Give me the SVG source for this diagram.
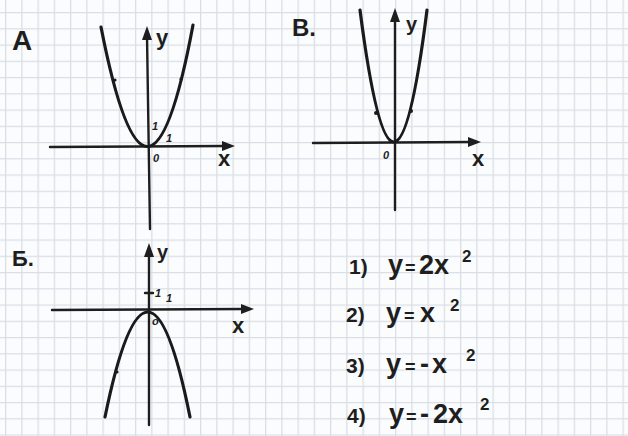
<svg xmlns="http://www.w3.org/2000/svg" width="628" height="436" viewBox="0 0 628 436">
<defs>
<pattern id="grid" x="5" y="12" width="16.25" height="16.25" patternUnits="userSpaceOnUse">
<path d="M0.6,0 V16.25 M0,0.6 H16.25" fill="none" stroke="#d9dee5" stroke-width="1.3"/>
</pattern>
</defs>
<style>
.axis{fill:none;stroke:#1e1e1e;stroke-width:2.4;stroke-linecap:round}
.head{fill:#1e1e1e}
.curve{fill:none;stroke:#1a1a1a;stroke-width:3.2;stroke-linecap:round}
.lbl{font-family:"Liberation Sans",Arial,sans-serif;font-weight:bold;fill:#1e1e1e}
.big{font-size:28px}
.ax{font-size:22px}
.sm{font-size:11px;font-style:italic}
.eq{font-family:"Liberation Sans",Arial,sans-serif;font-weight:bold;fill:#1e1e1e;font-size:27px}
.sup{font-size:17px}
.dot{fill:#1a1a1a}
</style>
<rect width="628" height="436" fill="#fafcfd"/>
<rect width="628" height="436" fill="url(#grid)"/>

<g id="graph-A">
<line class="axis" x1="50" y1="147" x2="226" y2="146"/>
<polygon class="head" points="235,146 222,141 222,151"/>
<line class="axis" x1="150" y1="229" x2="147" y2="36"/>
<polygon class="head" points="147,26 142,40 152,40"/>
<path class="curve" d="M101,27 Q148,267 193,25"/>
<circle class="dot" cx="115" cy="80" r="1.6"/>
<circle class="dot" cx="181" cy="79" r="1.6"/>
<text class="lbl big" x="12" y="50">A</text>
<text class="lbl ax" x="156" y="45">y</text>
<text class="lbl ax" x="218" y="166">x</text>
<text class="lbl sm" x="153" y="162">0</text>
<text class="lbl sm" x="152" y="130">1</text>
<text class="lbl sm" x="166" y="142">1</text>
</g>

<g id="graph-V">
<line class="axis" x1="313" y1="143" x2="472" y2="142"/>
<polygon class="head" points="481,142 468,137 468,147"/>
<line class="axis" x1="395" y1="210" x2="395" y2="18"/>
<polygon class="head" points="395,8 390,22 400,22"/>
<path class="curve" d="M360,10 Q394,274 427,10"/>
<circle class="dot" cx="376" cy="113" r="2"/>
<circle class="dot" cx="411" cy="111" r="2"/>
<text class="lbl" font-size="24" x="292" y="36">В.</text>
<text class="lbl" font-size="20" x="406" y="31">y</text>
<text class="lbl ax" x="472" y="166">x</text>
<text class="lbl sm" x="383" y="159">0</text>
</g>

<g id="graph-B">
<line class="axis" x1="52" y1="310" x2="245" y2="309"/>
<polygon class="head" points="254,309 241,304 241,314"/>
<line class="axis" x1="149" y1="425" x2="149" y2="253"/>
<polygon class="head" points="149,243 144,257 154,257"/>
<path class="curve" d="M105,417 Q148,207 190,417"/>
<circle class="dot" cx="117" cy="372" r="1.6"/>
<line class="axis" x1="145" y1="293" x2="153" y2="293" stroke-width="1.8"/>
<text class="lbl" font-size="22" x="12" y="266">Б.</text>
<text class="lbl" font-size="20" x="157" y="259">y</text>
<text class="lbl ax" x="232" y="333">x</text>
<text class="lbl sm" x="155" y="297">1</text>
<text class="lbl sm" x="166" y="302">1</text>
<text class="lbl sm" x="152" y="325">o</text>
</g>

<g id="equations">
<text class="eq" x="349" y="274"><tspan font-size="21">1)</tspan><tspan x="388">y</tspan><tspan x="405" font-size="18">=</tspan><tspan x="419">2x</tspan><tspan class="sup" x="462" dy="-12">2</tspan></text>
<text class="eq" x="346" y="322"><tspan font-size="21">2)</tspan><tspan x="386">y</tspan><tspan x="404" font-size="18">=</tspan><tspan x="420">x</tspan><tspan class="sup" x="450" dy="-11">2</tspan></text>
<text class="eq" x="346" y="373"><tspan font-size="21">3)</tspan><tspan x="386">y</tspan><tspan x="405" font-size="18">=</tspan><tspan x="420">-</tspan><tspan x="432">x</tspan><tspan class="sup" x="466" dy="-12">2</tspan></text>
<text class="eq" x="347" y="423"><tspan font-size="21">4)</tspan><tspan x="389">y</tspan><tspan x="406" font-size="18">=</tspan><tspan x="420">-</tspan><tspan x="433">2x</tspan><tspan class="sup" x="480" dy="-13">2</tspan></text>
</g>
</svg>
